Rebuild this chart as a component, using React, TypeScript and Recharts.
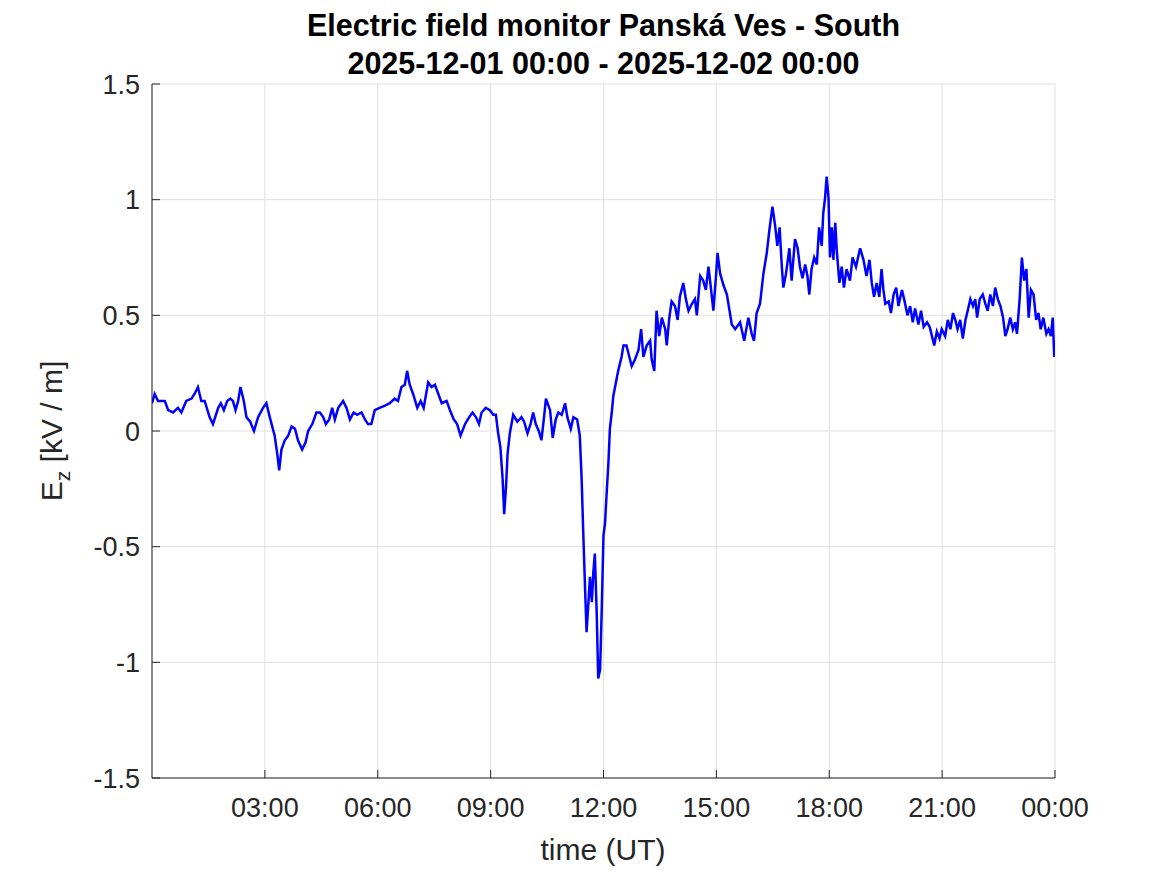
import { LineChart, Line, XAxis, YAxis, CartesianGrid } from "recharts";

// time of day in hours (UT) and vertical field Ez in kV/m
const HOURS = [
  0.0, 0.07, 0.16, 0.34, 0.43, 0.56, 0.69, 0.78, 0.91, 1.05, 1.13, 1.22, 1.31, 1.4, 1.53, 1.62, 1.68,
  1.76, 1.83, 1.91, 2.0, 2.08, 2.15, 2.22, 2.29, 2.35, 2.44, 2.51, 2.61, 2.71, 2.82, 2.95, 3.04, 3.13,
  3.26, 3.33, 3.38, 3.44, 3.53, 3.62, 3.71, 3.8, 3.88, 3.99, 4.08, 4.15, 4.26, 4.37, 4.46, 4.55, 4.62,
  4.71, 4.79, 4.86, 4.95, 5.08, 5.17, 5.26, 5.36, 5.45, 5.57, 5.66, 5.74, 5.83, 5.92, 6.05, 6.19, 6.32,
  6.45, 6.54, 6.63, 6.72, 6.78, 6.85, 6.94, 7.05, 7.14, 7.22, 7.34, 7.43, 7.52, 7.61, 7.7, 7.83, 7.92,
  8.02, 8.11, 8.2, 8.32, 8.43, 8.52, 8.61, 8.69, 8.76, 8.87, 8.98, 9.07, 9.14, 9.2, 9.26, 9.32, 9.36,
  9.41, 9.45, 9.51, 9.6, 9.71, 9.82, 9.89, 9.98, 10.06, 10.13, 10.2, 10.28, 10.35, 10.42, 10.47, 10.58,
  10.65, 10.73, 10.8, 10.89, 10.98, 11.04, 11.13, 11.2, 11.3, 11.37, 11.42, 11.46, 11.51, 11.55, 11.6,
  11.64, 11.69, 11.73, 11.77, 11.82, 11.86, 11.91, 11.95, 12.0, 12.04, 12.08, 12.13, 12.17, 12.22,
  12.26, 12.39, 12.48, 12.53, 12.61, 12.75, 12.84, 12.93, 13.0, 13.06, 13.15, 13.24, 13.28, 13.35,
  13.41, 13.48, 13.55, 13.64, 13.68, 13.75, 13.81, 13.9, 13.97, 14.03, 14.12, 14.19, 14.26, 14.35,
  14.43, 14.48, 14.57, 14.65, 14.72, 14.79, 14.86, 14.92, 14.99, 15.03, 15.1, 15.19, 15.28, 15.35,
  15.41, 15.5, 15.63, 15.74, 15.85, 15.94, 16.0, 16.07, 16.16, 16.25, 16.34, 16.41, 16.49, 16.56,
  16.62, 16.68, 16.74, 16.78, 16.85, 16.94, 17.0, 17.09, 17.16, 17.22, 17.29, 17.36, 17.42, 17.47,
  17.53, 17.6, 17.67, 17.73, 17.8, 17.84, 17.89, 17.93, 17.98, 18.02, 18.07, 18.11, 18.16, 18.2, 18.27,
  18.33, 18.39, 18.46, 18.55, 18.62, 18.71, 18.82, 18.91, 18.99, 19.07, 19.13, 19.19, 19.26, 19.33,
  19.39, 19.44, 19.49, 19.58, 19.64, 19.71, 19.78, 19.84, 19.93, 19.99, 20.08, 20.15, 20.22, 20.28,
  20.37, 20.44, 20.51, 20.6, 20.67, 20.73, 20.79, 20.86, 20.93, 20.99, 21.08, 21.15, 21.22, 21.29,
  21.35, 21.41, 21.48, 21.55, 21.62, 21.68, 21.75, 21.82, 21.88, 21.93, 22.0, 22.08, 22.15, 22.21,
  22.28, 22.35, 22.41, 22.48, 22.55, 22.62, 22.68, 22.74, 22.81, 22.88, 22.94, 22.99, 23.06, 23.12,
  23.18, 23.24, 23.3, 23.36, 23.43, 23.5, 23.56, 23.62, 23.69, 23.77, 23.83, 23.89, 23.94, 23.98, 24.0,
];

const EZ = [
  0.12, 0.16, 0.13, 0.13, 0.09, 0.08, 0.1, 0.08, 0.13, 0.14, 0.16, 0.19, 0.13, 0.13, 0.06, 0.03, 0.06,
  0.1, 0.12, 0.09, 0.13, 0.14, 0.13, 0.09, 0.13, 0.19, 0.13, 0.06, 0.04, 0.0, 0.06, 0.1, 0.12, 0.06,
  -0.02, -0.1, -0.17, -0.08, -0.04, -0.02, 0.02, 0.01, -0.04, -0.08, -0.05, 0.0, 0.03, 0.08, 0.08, 0.06,
  0.03, 0.05, 0.1, 0.05, 0.1, 0.13, 0.1, 0.05, 0.08, 0.07, 0.08, 0.05, 0.03, 0.03, 0.09, 0.1, 0.11, 0.12,
  0.14, 0.13, 0.19, 0.2, 0.26, 0.2, 0.16, 0.1, 0.13, 0.1, 0.21, 0.19, 0.2, 0.16, 0.12, 0.13, 0.09,
  0.05, 0.03, -0.02, 0.03, 0.06, 0.08, 0.06, 0.03, 0.08, 0.1, 0.09, 0.07, 0.07, -0.01, -0.07, -0.21, -0.36,
  -0.24, -0.1, -0.01, 0.07, 0.04, 0.06, 0.04, -0.01, 0.03, 0.08, 0.03, 0.0, -0.04, 0.06, 0.14, 0.09,
  -0.03, 0.05, 0.08, 0.07, 0.12, 0.06, 0.01, 0.06, 0.05, -0.02, -0.21, -0.43, -0.68, -0.87, -0.74,
  -0.63, -0.74, -0.61, -0.53, -0.79, -1.07, -1.03, -0.79, -0.45, -0.4, -0.28, -0.14, 0.01, 0.08,
  0.15, 0.26, 0.32, 0.37, 0.37, 0.28, 0.31, 0.35, 0.44, 0.32, 0.37, 0.39, 0.31, 0.26,
  0.52, 0.41, 0.49, 0.44, 0.37, 0.49, 0.56, 0.54, 0.48, 0.58, 0.64, 0.57, 0.52, 0.55,
  0.57, 0.5, 0.67, 0.65, 0.61, 0.71, 0.61, 0.52, 0.67, 0.77, 0.68, 0.63, 0.59, 0.52,
  0.46, 0.44, 0.47, 0.39, 0.49, 0.42, 0.39, 0.51, 0.55, 0.68, 0.77, 0.87, 0.97, 0.89,
  0.8, 0.88, 0.71, 0.62, 0.68, 0.79, 0.65, 0.83, 0.79, 0.71, 0.66, 0.72, 0.67, 0.59,
  0.7, 0.75, 0.72, 0.88, 0.8, 0.94, 1.01, 1.1, 1.01, 0.75, 0.88, 0.74, 0.9, 0.78, 0.64,
  0.71, 0.62, 0.7, 0.65, 0.75, 0.71, 0.79, 0.74, 0.67, 0.74, 0.64, 0.58, 0.64, 0.58,
  0.7, 0.61, 0.55, 0.56, 0.51, 0.59, 0.62, 0.54, 0.61, 0.57, 0.5, 0.54, 0.47, 0.53,
  0.46, 0.52, 0.45, 0.47, 0.45, 0.41, 0.37, 0.43, 0.4, 0.44, 0.41, 0.48, 0.44, 0.51,
  0.48, 0.44, 0.48, 0.4, 0.48, 0.52, 0.57, 0.54, 0.57, 0.49, 0.57, 0.59, 0.55, 0.52,
  0.59, 0.54, 0.62, 0.57, 0.54, 0.49, 0.41, 0.44, 0.49, 0.44, 0.47, 0.42, 0.57, 0.75,
  0.65, 0.7, 0.49, 0.61, 0.59, 0.48, 0.51, 0.44, 0.49, 0.42, 0.44, 0.41, 0.49, 0.32, 0.39,
];

const X_TICKS = [3, 6, 9, 12, 15, 18, 21, 24];
const Y_TICKS = [-1.5, -1, -0.5, 0, 0.5, 1, 1.5];

const data = HOURS.map((t, i) => ({ t, ez: EZ[i] }));

const FONT = '"Liberation Sans", Arial, Helvetica, sans-serif';
const AXIS = "#262626";
const tickStyle = { fontSize: 27, fill: AXIS, fontFamily: FONT };

const fmtTime = (h: number) => `${String(h % 24).padStart(2, "0")}:00`;

export default function App() {
  return (
    <div style={{ position: "absolute", left: 0, top: 0, width: 1167, height: 875, background: "#fff", fontFamily: FONT }}>
      <div
        style={{
          position: "absolute",
          left: 0,
          top: 6,
          width: 1207,
          textAlign: "center",
          fontSize: 30.5,
          lineHeight: "38px",
          fontWeight: "bold",
          color: "#000",
        }}
      >
        <div>Electric field monitor Panská Ves - South</div>
        <div>2025-12-01 00:00 - 2025-12-02 00:00</div>
      </div>

      <LineChart width={1167} height={875} data={data} margin={{ top: 84, right: 112, bottom: 57, left: 92 }}>
        <CartesianGrid stroke="#e0e0e0" strokeWidth={1} />
        <XAxis
          dataKey="t"
          type="number"
          domain={[0, 24]}
          ticks={X_TICKS}
          tickFormatter={fmtTime}
          allowDataOverflow
          height={40}
          stroke={AXIS}
          tick={tickStyle}
          tickSize={-8}
          tickMargin={28}
        />
        <XAxis
          xAxisId="top"
          orientation="top"
          type="number"
          domain={[0, 24]}
          ticks={X_TICKS}
          height={0}
          stroke={AXIS}
          tick={false}
          tickSize={-8}
        />
        <YAxis
          type="number"
          domain={[-1.5, 1.5]}
          ticks={Y_TICKS}
          allowDataOverflow
          width={60}
          stroke={AXIS}
          tick={tickStyle}
          tickSize={-8}
          tickMargin={20}
        />
        <YAxis
          yAxisId="right"
          orientation="right"
          type="number"
          domain={[-1.5, 1.5]}
          ticks={Y_TICKS}
          width={0}
          stroke={AXIS}
          tick={false}
          tickSize={-8}
        />
        <Line
          type="linear"
          dataKey="ez"
          stroke="#0000ff"
          strokeWidth={2.5}
          dot={false}
          isAnimationActive={false}
        />
      </LineChart>

      <div
        style={{
          position: "absolute",
          left: 403,
          width: 400,
          top: 835,
          textAlign: "center",
          fontSize: 30,
          lineHeight: "30px",
          color: AXIS,
        }}
      >
        time (UT)
      </div>
      <div
        style={{
          position: "absolute",
          left: 57,
          top: 431,
          transform: "translate(-50%, -50%) rotate(-90deg)",
          whiteSpace: "nowrap",
          fontSize: 30,
          lineHeight: "30px",
          color: AXIS,
        }}
      >
        E<sub style={{ fontSize: 21, verticalAlign: "-8px" }}>z</sub> [kV / m]
      </div>
    </div>
  );
}
